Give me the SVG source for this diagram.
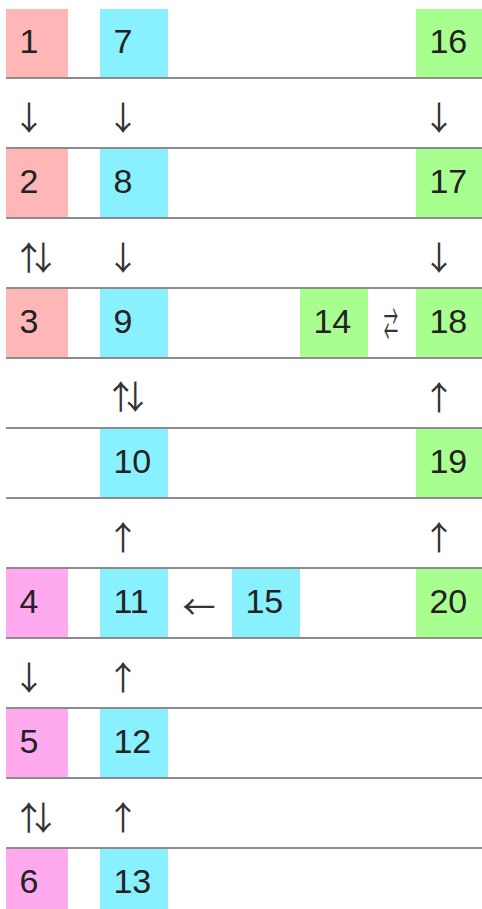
<svg xmlns="http://www.w3.org/2000/svg" width="482" height="909" viewBox="0 0 482 909">
<style>
.a{fill:#ffb6b6}.m{fill:#ffaaee}.c{fill:#88f0ff}.g{fill:#a8ff90}
text{font-family:"Liberation Sans",Arial,sans-serif;font-size:34px;fill:#222}
.ar{font-family:"Noto Sans CJK JP","Noto Sans CJK SC","DejaVu Sans",sans-serif;text-anchor:middle;dominant-baseline:central;fill:#333;font-size:33px}
.sep{fill:#8c8c8c}
</style>
<rect width="482" height="909" fill="#fff"/>
<g id="separators">
<rect class="sep" x="6" y="77" width="476" height="2"/>
<rect class="sep" x="6" y="147" width="476" height="2"/>
<rect class="sep" x="6" y="217" width="476" height="2"/>
<rect class="sep" x="6" y="287" width="476" height="2"/>
<rect class="sep" x="6" y="357" width="476" height="2"/>
<rect class="sep" x="6" y="427" width="476" height="2"/>
<rect class="sep" x="6" y="497" width="476" height="2"/>
<rect class="sep" x="6" y="567" width="476" height="2"/>
<rect class="sep" x="6" y="637" width="476" height="2"/>
<rect class="sep" x="6" y="707" width="476" height="2"/>
<rect class="sep" x="6" y="777" width="476" height="2"/>
<rect class="sep" x="6" y="847" width="476" height="2"/>
</g>
<g id="n1"><rect class="a" x="6" y="9" width="62" height="68"/><text x="19.4" y="53.3">1</text></g>
<g id="n2"><rect class="a" x="6" y="149" width="62" height="68"/><text x="19.4" y="193.3">2</text></g>
<g id="n3"><rect class="a" x="6" y="289" width="62" height="68"/><text x="19.4" y="333.3">3</text></g>
<g id="n4"><rect class="m" x="6" y="569" width="62" height="68"/><text x="19.4" y="613.3">4</text></g>
<g id="n5"><rect class="m" x="6" y="709" width="62" height="68"/><text x="19.4" y="753.3">5</text></g>
<g id="n6"><rect class="m" x="6" y="849" width="62" height="68"/><text x="19.4" y="893.3">6</text></g>
<g id="n7"><rect class="c" x="100" y="9" width="68" height="68"/><text x="113.4" y="53.3">7</text></g>
<g id="n8"><rect class="c" x="100" y="149" width="68" height="68"/><text x="113.4" y="193.3">8</text></g>
<g id="n9"><rect class="c" x="100" y="289" width="68" height="68"/><text x="113.4" y="333.3">9</text></g>
<g id="n10"><rect class="c" x="100" y="429" width="68" height="68"/><text x="113.4" y="473.3">10</text></g>
<g id="n11"><rect class="c" x="100" y="569" width="68" height="68"/><text x="113.4" y="613.3">11</text></g>
<g id="n12"><rect class="c" x="100" y="709" width="68" height="68"/><text x="113.4" y="753.3">12</text></g>
<g id="n13"><rect class="c" x="100" y="849" width="68" height="68"/><text x="113.4" y="893.3">13</text></g>
<g id="n14"><rect class="g" x="300" y="289" width="68" height="68"/><text x="313.4" y="333.3">14</text></g>
<g id="n15"><rect class="c" x="232" y="569" width="68" height="68"/><text x="245.4" y="613.3">15</text></g>
<g id="n16"><rect class="g" x="416" y="9" width="68" height="68"/><text x="429.4" y="53.3">16</text></g>
<g id="n17"><rect class="g" x="416" y="149" width="68" height="68"/><text x="429.4" y="193.3">17</text></g>
<g id="n18"><rect class="g" x="416" y="289" width="68" height="68"/><text x="429.4" y="333.3">18</text></g>
<g id="n19"><rect class="g" x="416" y="429" width="68" height="68"/><text x="429.4" y="473.3">19</text></g>
<g id="n20"><rect class="g" x="416" y="569" width="68" height="68"/><text x="429.4" y="613.3">20</text></g>
<g id="connectors">
<text class="ar" x="29" y="116">↓</text>
<text class="ar" x="123" y="116">↓</text>
<text class="ar" x="439" y="116">↓</text>
<text class="ar" x="36" y="256">⇅</text>
<text class="ar" x="123" y="256">↓</text>
<text class="ar" x="439" y="256">↓</text>
<text class="ar" transform="translate(391 322) scale(0.65 1.5)" x="0" y="0" style="font-size:22px">⇄</text>
<text class="ar" x="128" y="395">⇅</text>
<text class="ar" x="439" y="396">↑</text>
<text class="ar" x="123" y="536">↑</text>
<text class="ar" x="439" y="536">↑</text>
<text class="ar" x="199" y="605">←</text>
<text class="ar" x="29" y="676">↓</text>
<text class="ar" x="123" y="676">↑</text>
<text class="ar" x="36" y="816">⇅</text>
<text class="ar" x="123" y="816">↑</text>
</g>
</svg>
